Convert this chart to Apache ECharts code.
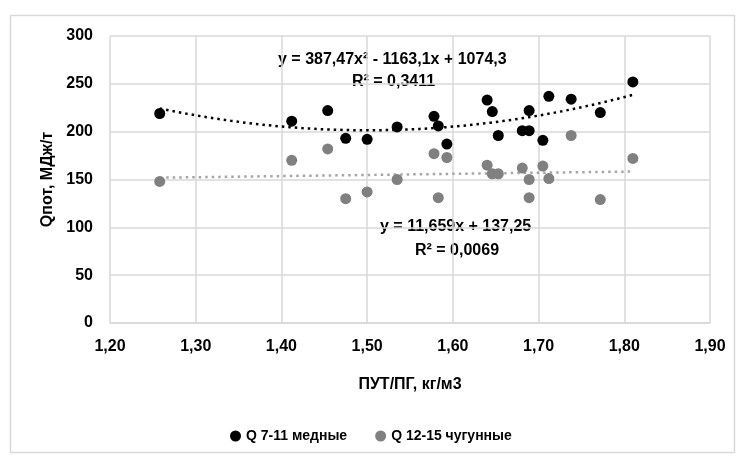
<!DOCTYPE html>
<html>
<head>
<meta charset="utf-8">
<script src="https://cdn.jsdelivr.net/npm/echarts@6/dist/echarts.min.js"></script>
<style>
  html, body { margin: 0; padding: 0; background: #fff; }
  #chart { width: 739px; height: 457px; }
</style>
</head>
<body>
<div id="chart"></div>
<script>
  // ПУТ/ПГ по точкам (общие для обеих групп)
  var xValues = [1.258, 1.412, 1.454, 1.475, 1.500, 1.535, 1.578, 1.583, 1.593, 1.640,
                 1.646, 1.653, 1.681, 1.689, 1.689, 1.705, 1.712, 1.738, 1.772, 1.810];
  // Q 7-11 медные
  var qCopper = [219, 211, 222, 193, 192, 205, 216, 206, 187, 233,
                 221, 196, 201, 201, 222, 191, 237, 234, 220, 252];
  // Q 12-15 чугунные
  var qCast = [148, 170, 182, 130, 137, 150, 177, 131, 173, 165,
               156, 156, 162, 150, 131, 164, 151, 196, 129, 172];

  // коэффициенты линий тренда (как подписано на графике)
  var polyCoef = [387.47, -1163.1, 1074.3];
  var linCoef = [11.659, 137.25];
  var trendRange = [1.258, 1.810];

  var seriesNames = ['Q 7-11 медные', 'Q 12-15 чугунные'];

  function pairs(xs, ys) {
    return xs.map(function (x, i) { return [x, ys[i]]; });
  }

  var polyLine = [], linLine = [];
  for (var k = 0; k <= 40; k++) {
    var x = trendRange[0] + (trendRange[1] - trendRange[0]) * k / 40;
    polyLine.push([x, polyCoef[0] * x * x + polyCoef[1] * x + polyCoef[2]]);
    linLine.push([x, linCoef[0] * x + linCoef[1]]);
  }

  var font = '"Liberation Sans", Arial, sans-serif';
  var chart = echarts.init(document.getElementById('chart'));

  var option = {
    animation: false,
    backgroundColor: '#fff',
    textStyle: { fontFamily: font },
    grid: { left: 110, right: 29, top: 36, bottom: 134 },
    xAxis: {
      type: 'value',
      min: 1.2, max: 1.9, interval: 0.1,
      name: 'ПУТ/ПГ, кг/м3',
      nameLocation: 'middle',
      nameGap: 54,
      nameTextStyle: { color: '#000', fontSize: 16, fontWeight: 'bold', fontFamily: font },
      axisLine: { show: true, lineStyle: { color: '#d9d9d9', width: 1.5 } },
      axisTick: { show: false },
      splitLine: { show: true, lineStyle: { color: '#d9d9d9', width: 1.5 } },
      axisLabel: {
        color: '#000', fontSize: 16, fontWeight: 'bold', margin: 16,
        formatter: function (v) { return v.toFixed(2).replace('.', ','); }
      }
    },
    yAxis: {
      type: 'value',
      min: 0, max: 300, interval: 50,
      name: 'Qпот, МДж/т',
      nameLocation: 'middle',
      nameGap: 54,
      nameTextStyle: { color: '#000', fontSize: 16, fontWeight: 'bold', fontFamily: font },
      axisLine: { show: false },
      axisTick: { show: false },
      splitLine: { show: true, lineStyle: { color: '#d9d9d9', width: 1.5 } },
      axisLabel: { color: '#000', fontSize: 16, fontWeight: 'bold', margin: 17 }
    },
    legend: {
      data: [
        { name: seriesNames[0], itemStyle: { color: '#000' } },
        { name: seriesNames[1], itemStyle: { color: '#808080' } }
      ],
      left: 225,
      top: 424,
      icon: 'circle',
      itemWidth: 11,
      itemHeight: 11,
      itemGap: 28,
      textStyle: { color: '#000', fontSize: 14, fontWeight: 'bold', fontFamily: font }
    },
    graphic: [
      { type: 'rect', left: 8, top: 13, shape: { width: 724, height: 437 },
        style: { fill: 'none', stroke: '#d9d9d9', lineWidth: 1.5 }, silent: true },
      { type: 'text', left: 278, top: 52,
        style: { text: 'y = 387,47x² - 1163,1x + 1074,3', font: 'bold 16px ' + font, fill: '#000' } },
      { type: 'text', left: 352, top: 74,
        style: { text: 'R² = 0,3411', font: 'bold 16px ' + font, fill: '#000' } },
      { type: 'text', left: 380, top: 219,
        style: { text: 'y = 11,659x + 137,25', font: 'bold 16px ' + font, fill: '#000' } },
      { type: 'text', left: 415, top: 243,
        style: { text: 'R² = 0,0069', font: 'bold 16px ' + font, fill: '#000' } }
    ],
    series: [
      {
        name: seriesNames[1] + ' тренд',
        type: 'line',
        data: linLine,
        showSymbol: false,
        silent: true,
        lineStyle: { color: '#a6a6a6', width: 2.5, type: [2.5, 4] },
        z: 1
      },
      {
        name: seriesNames[0] + ' тренд',
        type: 'line',
        data: polyLine,
        showSymbol: false,
        silent: true,
        lineStyle: { color: '#000', width: 2.5, type: [2.5, 4] },
        z: 1
      },
      {
        name: seriesNames[1],
        type: 'scatter',
        data: pairs(xValues, qCast),
        symbolSize: 11,
        itemStyle: { color: '#808080', opacity: 1 },
        z: 2
      },
      {
        name: seriesNames[0],
        type: 'scatter',
        data: pairs(xValues, qCopper),
        symbolSize: 11,
        itemStyle: { color: '#000', opacity: 1 },
        z: 3
      }
    ]
  };

  chart.setOption(option);
</script>
</body>
</html>
